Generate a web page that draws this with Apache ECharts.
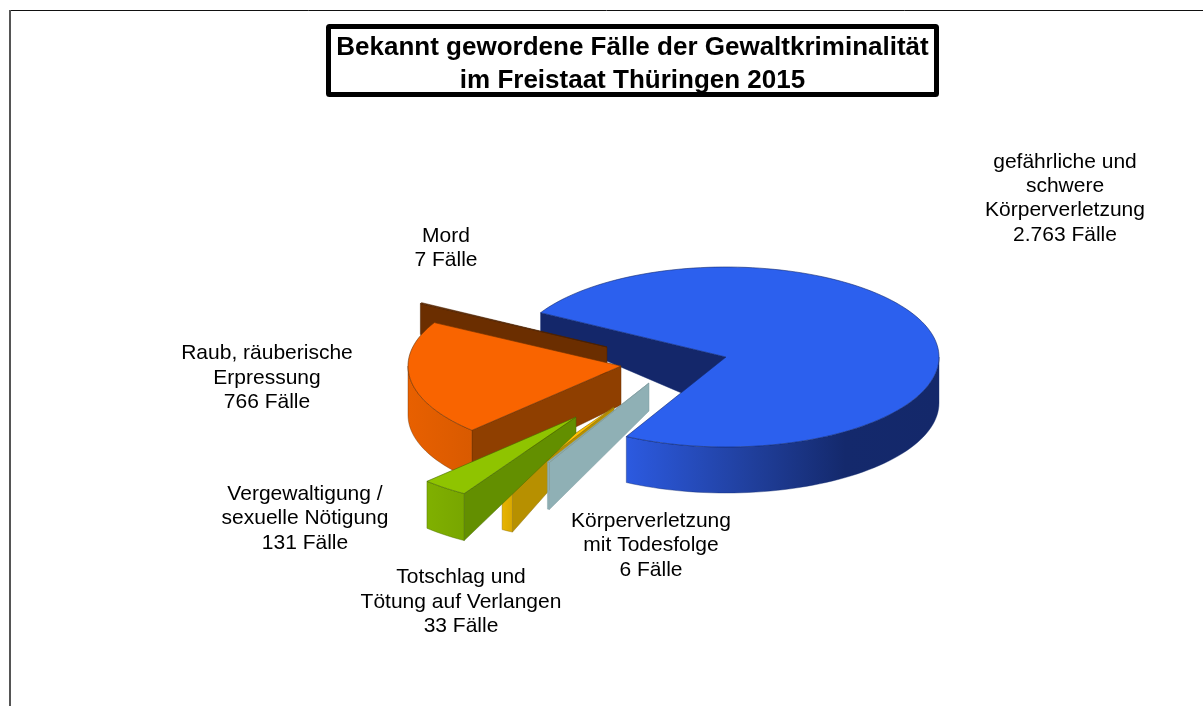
<!DOCTYPE html>
<html>
<head>
<meta charset="utf-8">
<style>html,body{margin:0;padding:0;background:#fff}#c{width:1203px;height:706px}</style>
<script src="https://cdn.jsdelivr.net/npm/echarts@6/dist/echarts.min.js"></script>
</head>
<body>
<div id="c"></div>
<script>
// ---- data ----
const categories = [
  'gefährliche und\nschwere\nKörperverletzung',
  'Körperverletzung\nmit Todesfolge',
  'Totschlag und\nTötung auf Verlangen',
  'Vergewaltigung /\nsexuelle Nötigung',
  'Raub, räuberische\nErpressung',
  'Mord'
];
const caseCounts = [2763, 6, 33, 131, 766, 7];
const caseLabels = ['2.763 Fälle', '6 Fälle', '33 Fälle', '131 Fälle', '766 Fälle', '7 Fälle'];
const titleText = 'Bekannt gewordene Fälle der Gewaltkriminalität\nim Freistaat Thüringen 2015';

// ---- look of the exploded 3D pie ----
const startAngle = 209.5, cx = 726, cy = 357, rx = 213, ry = 90;
const explodeX  = [0, -77, -112, -150, -105, -119];
const explodeY  = [0, 26, 50, 60, 9, -10];
const rimDepth  = [46, 47, 46, 47, 49, 30];
const apexDepth = [55, 28, 10, 16, 39, 30];
const outerWall = [20, 47, 46, 47, 47, 31];
const wallLayer = [1, 5, 4, 7, 3, 2];
const topLayer  = [1, 5, 6, 7, 3, 2];
const topColor  = ['#2c60ee', '#8fb0b5', '#ffc000', '#8fc400', '#f96400', '#6b2e00'];
const wallColor = ['#14276a', '#8fb0b5', '#b79000', '#638f00', '#8f3f00', '#6b2e00'];
const rimColors = [
  [[0, '#2c5ae0'], [0.4, '#203f9c'], [0.7, '#14296c'], [1, '#14286a']],
  [[0, '#8fb0b5'], [1, '#8fb0b5']],
  [[0, '#e8b400'], [1, '#d8a800']],
  [[0, '#80b000'], [1, '#78a600']],
  [[0, '#e86000'], [1, '#d95a00']],
  [[0, '#6b2e00'], [1, '#6b2e00']]
];
const edgeColor = ['#122a70', '#7f9ca0', '#8a6c00', '#466800', '#6b3000', '#4a2000'];
const labelX = [1065, 651, 461, 305, 267, 446];
const labelY = [198.5, 545.5, 602, 518.5, 378, 248.5];

const total = caseCounts.reduce((a, b) => a + b, 0);
const startAngles = [];
caseCounts.reduce((acc, v, i) => { startAngles[i] = acc; return acc + v / total * 360; }, startAngle);

function arc(ax, ay, a, b, dy) {
  const pts = [], n = Math.max(2, Math.ceil(Math.abs(b - a) / 2));
  for (let k = 0; k <= n; k++) {
    const t = (a + (b - a) * k / n) * Math.PI / 180;
    pts.push([ax + rx * Math.cos(t), ay + ry * Math.sin(t) + dy]);
  }
  return pts;
}

function renderItem(params, api) {
  const i = api.value(0), v = api.value(1);
  const s = startAngles[i], e = s + v / total * 360;
  const ax = cx + explodeX[i], ay = cy + explodeY[i];
  const children = [];
  // side wall at the start edge of the slice
  const out = arc(ax, ay, s, s, 0)[0];
  children.push({
    type: 'polygon', z2: wallLayer[i] * 10,
    shape: { points: [[ax, ay], out, [out[0], out[1] + outerWall[i]], [ax, ay + apexDepth[i]]] },
    style: { fill: wallColor[i], stroke: edgeColor[i], lineWidth: 0.5 }
  });
  // outer rim, only where it faces the viewer
  [[0, 180], [360, 540]].forEach(r => {
    const a = Math.max(s, r[0]), b = Math.min(e, r[1]);
    if (b > a) {
      const top = arc(ax, ay, a, b, 0), bot = arc(ax, ay, a, b, rimDepth[i]).reverse();
      children.push({
        type: 'polygon', z2: wallLayer[i] * 10 + 1,
        shape: { points: top.concat(bot) },
        style: {
          fill: new echarts.graphic.LinearGradient(0, 0, 1, 0, rimColors[i].map(c => ({ offset: c[0], color: c[1] }))),
          stroke: edgeColor[i], lineWidth: 0.4
        }
      });
    }
  });
  // top face
  children.push({
    type: 'polygon', z2: topLayer[i] * 10 + 2,
    shape: { points: [[ax, ay]].concat(arc(ax, ay, s, e, 0)) },
    style: { fill: topColor[i], stroke: edgeColor[i], lineWidth: 0.6 }
  });
  // label
  children.push({
    type: 'text', z2: 100,
    style: {
      x: labelX[i], y: labelY[i],
      text: categories[i] + '\n' + caseLabels[i],
      fill: '#000', font: '21px "Liberation Sans", Arial, sans-serif',
      lineHeight: 24.4, align: 'center', verticalAlign: 'middle'
    }
  });
  return { type: 'group', children };
}

const chart = echarts.init(document.getElementById('c'), null, { renderer: 'canvas' });
chart.setOption({
  animation: false,
  backgroundColor: '#fff',
  title: {
    text: titleText,
    left: 627.5, top: 26.5, textAlign: 'center',
    textStyle: { fontFamily: '"Liberation Sans", Arial, sans-serif', fontWeight: 'bold', fontSize: 26, lineHeight: 33, color: '#000' }
  },
  graphic: [
    { type: 'line', z: 0, shape: { x1: 10, y1: 10.5, x2: 1203, y2: 10.5 }, style: { stroke: '#111', lineWidth: 1 } },
    { type: 'line', z: 0, shape: { x1: 10, y1: 10, x2: 10, y2: 706 }, style: { stroke: '#555', lineWidth: 2 } },
    { type: 'rect', z: 0, shape: { x: 328.5, y: 26.5, width: 608, height: 68, r: 1 }, style: { fill: '#fff', stroke: '#000', lineWidth: 5 } }
  ],
  series: [{
    type: 'custom',
    coordinateSystem: 'none',
    renderItem,
    clip: false,
    silent: true,
    data: caseCounts.map((v, i) => [i, v])
  }]
});
</script>
</body>
</html>
